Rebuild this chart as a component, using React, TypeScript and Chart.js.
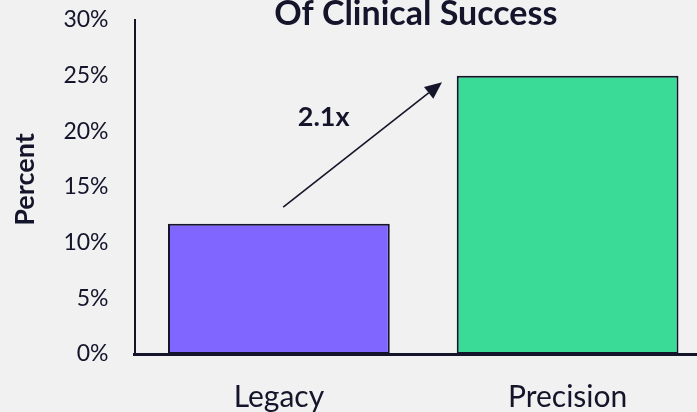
import React, { useEffect, useRef } from "react";
import { Chart, registerables } from "chart.js";

Chart.register(...registerables);

const categories = ["Legacy", "Precision"];
const percentValues = [11.7, 25.0];
const barColors = ["#8165FF", "#3ADB97"];
const yTicks = [0, 5, 10, 15, 20, 25, 30];
const titleText = "Of Clinical Success";
const yAxisTitle = "Percent";
const arrowLabel = "2.1x";
// annotation anchors in data units: [category index, percent]
const arrowFrom = [0.015, 13.2];
const arrowTo = [0.565, 24.4];
const arrowLabelAt = [0.155, 21.3];

const INK = "#14142B";
const BG = "#F1F1F1";
const FONT = "Lato, 'Open Sans', sans-serif";

export default function App() {
  const ref = useRef<HTMLCanvasElement | null>(null);

  useEffect(() => {
    document.body.style.margin = "0";
    document.body.style.background = BG;
    const canvas = ref.current;
    if (!canvas) return;

    const bgPlugin = {
      id: "bg",
      beforeDraw(chart: any) {
        const { ctx } = chart;
        ctx.save();
        ctx.fillStyle = BG;
        ctx.fillRect(0, 0, chart.width, chart.height);
        ctx.restore();
      },
    };

    const annotPlugin = {
      id: "annot",
      afterDraw(chart: any) {
        const { ctx, scales, chartArea } = chart;
        const x = scales.x;
        const y = scales.y;
        const x1 = x.getPixelForValue(arrowFrom[0]);
        const y1 = y.getPixelForValue(arrowFrom[1]);
        const x2 = x.getPixelForValue(arrowTo[0]);
        const y2 = y.getPixelForValue(arrowTo[1]);
        const ang = Math.atan2(y2 - y1, x2 - x1);
        const headLen = 17;
        const headHalf = 7.5;
        const bx = x2 - headLen * Math.cos(ang);
        const by = y2 - headLen * Math.sin(ang);
        ctx.save();
        ctx.strokeStyle = INK;
        ctx.fillStyle = INK;
        ctx.lineWidth = 1.6;
        ctx.beginPath();
        ctx.moveTo(x1, y1);
        ctx.lineTo(bx, by);
        ctx.stroke();
        ctx.beginPath();
        ctx.moveTo(x2, y2);
        ctx.lineTo(bx + headHalf * Math.sin(ang), by - headHalf * Math.cos(ang));
        ctx.lineTo(bx - headHalf * Math.sin(ang), by + headHalf * Math.cos(ang));
        ctx.closePath();
        ctx.fill();

        ctx.font = `bold 27px ${FONT}`;
        ctx.textAlign = "center";
        ctx.textBaseline = "middle";
        ctx.fillText(arrowLabel, x.getPixelForValue(arrowLabelAt[0]), y.getPixelForValue(arrowLabelAt[1]));

        ctx.font = `bold 34px ${FONT}`;
        ctx.textBaseline = "alphabetic";
        ctx.fillText(titleText, (chartArea.left + 697) / 2, 25);

        // y-axis title
        ctx.font = `bold 27px ${FONT}`;
        ctx.translate(25.5, 179.5);
        ctx.rotate(-Math.PI / 2);
        ctx.textBaseline = "middle";
        ctx.fillText(yAxisTitle, 0, 0);
        ctx.restore();
      },
    };

    const chart = new Chart(canvas, {
      type: "bar",
      data: {
        labels: categories,
        datasets: [
          {
            data: percentValues,
            backgroundColor: barColors,
            borderColor: INK,
            borderWidth: 2,
            borderSkipped: false,
            categoryPercentage: 1,
            barPercentage: 0.768,
          },
        ],
      },
      options: {
        animation: false,
        responsive: false,
        maintainAspectRatio: false,
        layout: { padding: { top: 20, left: 0, right: 0, bottom: 0 } },
        plugins: {
          legend: { display: false },
          tooltip: { enabled: false },
          title: { display: false },
        },
        scales: {
          x: {
            grid: { display: false, drawTicks: false },
            border: { display: true, color: INK, width: 3 },
            ticks: {
              color: INK,
              font: { family: FONT, size: 30 },
              padding: 25,
            },
            afterFit(scale: any) {
              scale.height = 66;
              scale.paddingLeft = 0;
              scale.paddingRight = 0;
            },
          },
          y: {
            min: 0,
            max: 30,
            afterBuildTicks(scale: any) {
              scale.ticks = yTicks.map((v) => ({ value: v }));
            },
            grid: { display: false, drawTicks: false },
            border: { display: true, color: INK, width: 2 },
            ticks: {
              color: INK,
              font: { family: FONT, size: 23 },
              padding: 26,
              callback: (v: any) => `${v}%`,
            },
            afterFit(scale: any) {
              scale.width = 134.5;
              scale.paddingTop = 0;
              scale.paddingBottom = 0;
            },
          },
        },
      },
      plugins: [bgPlugin, annotPlugin],
    });

    return () => chart.destroy();
  }, []);

  return (
    <div
      style={{
        position: "fixed",
        left: 0,
        top: 0,
        width: 697,
        height: 412,
        overflow: "hidden",
        background: BG,
      }}
    >
      <canvas ref={ref} width={712} height={420} style={{ display: "block", width: 712, height: 420 }} />
    </div>
  );
}
